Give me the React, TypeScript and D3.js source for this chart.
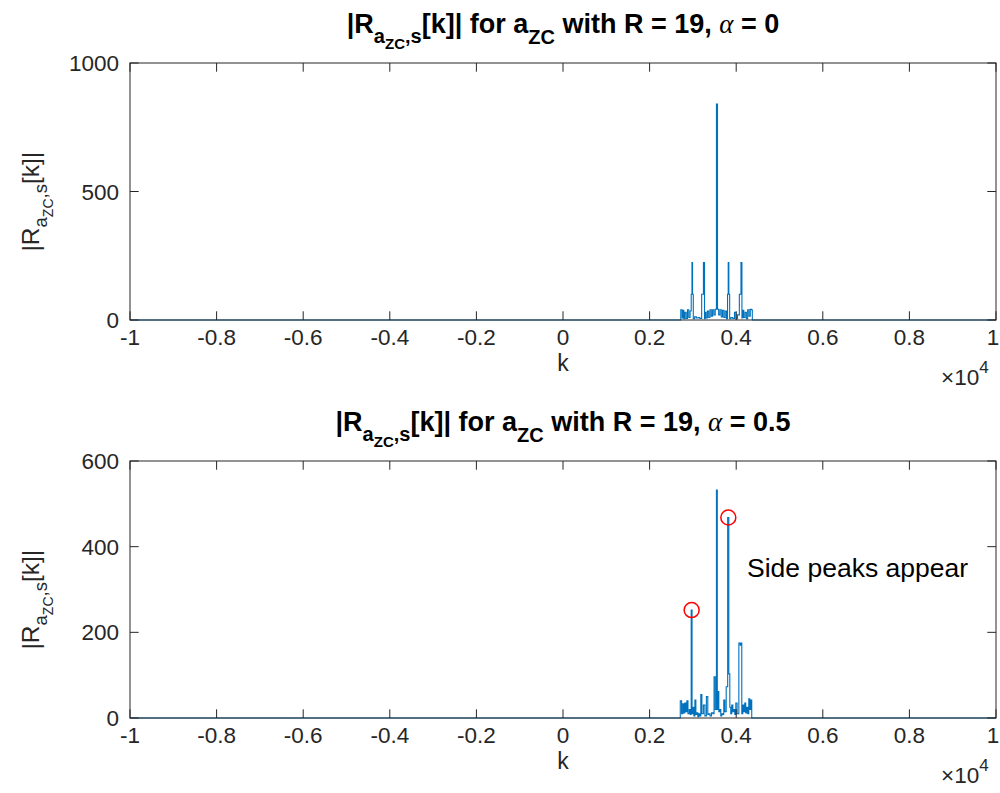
import { useEffect, useRef } from 'react'
import * as d3 from 'd3'

// |R[k]| samples (k, magnitude); zero elsewhere
const kTop = [-10000, 2700, 2740, 2760, 2780, 2800, 2830, 2860, 2890, 2920, 2950, 2972, 2985, 2998, 3020, 3060, 3100, 3140, 3180, 3225, 3262, 3275, 3290, 3320, 3350, 3380, 3410, 3440, 3470, 3500, 3530, 3557, 3580, 3610, 3640, 3670, 3700, 3730, 3760, 3790, 3810, 3822, 3838, 3860, 3900, 3940, 3980, 4010, 4050, 4095, 4125, 4140, 4160, 4190, 4220, 4250, 4280, 4310, 4340, 4364, 4380, 10000]
const magTop = [0, 0, 40, 8, 38, 5, 30, 6, 40, 10, 35, 100, 224, 100, 5, 12, 8, 10, 6, 100, 224, 5, 30, 8, 35, 10, 40, 15, 40, 20, 42, 840, 42, 20, 40, 12, 38, 10, 35, 5, 100, 224, 100, 5, 10, 6, 30, 5, 20, 100, 224, 8, 38, 10, 30, 5, 40, 15, 42, 40, 0, 0]

const kBot = [-10000, 2690, 2727, 2750, 2780, 2800, 2826, 2850, 2872, 2900, 2930, 2950, 2971, 2990, 3010, 3035, 3057, 3080, 3103, 3125, 3149, 3170, 3195, 3220, 3264, 3290, 3333, 3355, 3379, 3410, 3449, 3475, 3502, 3530, 3557, 3570, 3587, 3610, 3633, 3655, 3679, 3700, 3726, 3750, 3788, 3818, 3841, 3864, 3885, 3910, 3935, 3956, 3980, 4002, 4040, 4083, 4100, 4118, 4140, 4164, 4185, 4210, 4230, 4256, 4280, 4302, 4325, 4348, 4370, 10000]
const magBot = [0, 0, 40, 10, 33, 12, 35, 15, 40, 10, 20, 8, 252, 10, 25, 5, 42, 8, 12, 3, 10, 5, 55, 10, 30, 5, 50, 8, 10, 5, 12, 10, 96, 20, 532, 20, 62, 15, 20, 5, 10, 8, 42, 15, 73, 468, 103, 25, 10, 30, 15, 20, 8, 35, 10, 175, 170, 175, 10, 30, 15, 35, 12, 25, 10, 45, 20, 42, 0, 0]

// side peaks marked in the lower plot
const peakK = [2971, 3818]
const peakR = [252, 468]

const xTicks = [-10000, -8000, -6000, -4000, -2000, 0, 2000, 4000, 6000, 8000, 10000]
const xTickLabels = ['-1', '-0.8', '-0.6', '-0.4', '-0.2', '0', '0.2', '0.4', '0.6', '0.8', '1']
const yTicksTop = [0, 500, 1000]
const yTicksBot = [0, 200, 400, 600]

const FONT = '"Liberation Sans", Arial, Helvetica, sans-serif'
const AX = '#262626'
const LINE = '#0072BD'

type Panel = {
  top: number
  bottom: number
  yMax: number
  yTicks: number[]
  ks: number[]
  mags: number[]
  alpha: string
}

export default function App() {
  const svgRef = useRef<SVGSVGElement>(null)
  const width = 1000
  const height = 793

  useEffect(() => {
    if (!svgRef.current) return
    const svg = d3.select(svgRef.current)
    svg.selectAll('*').remove()

    const left = 130
    const right = 996

    const panels: Panel[] = [
      { top: 63, bottom: 320, yMax: 1000, yTicks: yTicksTop, ks: kTop, mags: magTop, alpha: '0' },
      { top: 461, bottom: 718, yMax: 600, yTicks: yTicksBot, ks: kBot, mags: magBot, alpha: '0.5' },
    ]

    panels.forEach((p, pi) => {
      const x = d3.scaleLinear().domain([-10000, 10000]).range([left, right])
      const y = d3.scaleLinear().domain([0, p.yMax]).range([p.bottom, p.top])
      const g = svg.append('g')

      // data line, stepped so the dense samples read as narrow bars
      const pts: [number, number][] = p.ks.map((k, i) => [k, p.mags[i]])
      const line = d3.line<[number, number]>().x(d => x(d[0])).y(d => y(d[1])).curve(d3.curveStep)
      g.append('path').attr('d', line(pts)).attr('fill', 'none')
        .attr('stroke', LINE).attr('stroke-width', 1.1)

      // box
      g.append('rect').attr('x', left).attr('y', p.top)
        .attr('width', right - left).attr('height', p.bottom - p.top)
        .attr('fill', 'none').attr('stroke', AX).attr('stroke-width', 1)

      // x ticks (inward, both sides)
      xTicks.forEach((t, i) => {
        const tx = x(t)
        g.append('line').attr('x1', tx).attr('x2', tx).attr('y1', p.bottom).attr('y2', p.bottom - 8.7)
          .attr('stroke', AX)
        g.append('line').attr('x1', tx).attr('x2', tx).attr('y1', p.top).attr('y2', p.top + 8.7)
          .attr('stroke', AX)
        // keep the last label inside the page edge
        g.append('text').attr('x', Math.min(tx, width - 7)).attr('y', p.bottom + 25).attr('text-anchor', 'middle')
          .attr('font-family', FONT).attr('font-size', 22.5).attr('fill', AX).text(xTickLabels[i])
      })

      // y ticks
      p.yTicks.forEach(t => {
        const ty = y(t)
        g.append('line').attr('x1', left).attr('x2', left + 8.7).attr('y1', ty).attr('y2', ty).attr('stroke', AX)
        g.append('line').attr('x1', right).attr('x2', right - 8.7).attr('y1', ty).attr('y2', ty).attr('stroke', AX)
        g.append('text').attr('x', left - 11).attr('y', ty + 8).attr('text-anchor', 'end')
          .attr('font-family', FONT).attr('font-size', 22.5).attr('fill', AX).text(String(t))
      })

      // x label and exponent
      g.append('text').attr('x', (left + right) / 2).attr('y', p.bottom + 51).attr('text-anchor', 'middle')
        .attr('font-family', FONT).attr('font-size', 23).attr('fill', AX).text('k')
      const ex = g.append('text').attr('x', 941).attr('y', p.bottom + 65)
        .attr('font-family', FONT).attr('font-size', 22.5).attr('fill', AX)
      ex.append('tspan').text('\u00d710')
      ex.append('tspan').attr('dy', -12).attr('font-size', 17).text('4')

      // y label
      const yl = g.append('text')
        .attr('transform', `translate(39,${(p.top + p.bottom) / 2 + 60}) rotate(-90)`)
        .attr('font-family', FONT).attr('font-size', 24.5).attr('fill', AX)
      yl.append('tspan').text('|R')
      yl.append('tspan').attr('dy', 8).attr('font-size', 18.5).text('a')
      yl.append('tspan').attr('dy', 6).attr('font-size', 14).text('ZC')
      yl.append('tspan').attr('dy', -6).attr('font-size', 18.5).text(',s')
      yl.append('tspan').attr('dy', -8).text('[k]|')

      // title
      const tt = g.append('text').attr('x', (left + right) / 2).attr('y', p.top - 30)
        .attr('text-anchor', 'middle').attr('font-family', FONT).attr('font-size', 27)
        .attr('font-weight', 'bold').attr('fill', '#000')
      tt.append('tspan').text('|R')
      tt.append('tspan').attr('dy', 10).attr('font-size', 20).text('a')
      tt.append('tspan').attr('dy', 6).attr('font-size', 15).text('ZC')
      tt.append('tspan').attr('dy', -6).attr('font-size', 20).text(',s')
      tt.append('tspan').attr('dy', -10).text('[k]| for a')
      tt.append('tspan').attr('dy', 11).attr('font-size', 20).text('ZC')
      tt.append('tspan').attr('dy', -11).text(' with R = 19, ')
      tt.append('tspan').attr('font-family', '"Liberation Serif", "Times New Roman", serif')
        .attr('font-style', 'italic').attr('font-weight', 'normal').text('\u03b1')
      tt.append('tspan').text(` = ${p.alpha}`)

      if (pi === 1) {
        peakK.forEach((k, i) => {
          g.append('circle').attr('cx', x(k)).attr('cy', y(peakR[i])).attr('r', 7.5)
            .attr('fill', 'none').attr('stroke', '#FF0000').attr('stroke-width', 1.5)
        })
        g.append('text').attr('x', x(4250)).attr('y', y(330))
          .attr('font-family', FONT).attr('font-size', 26.5).attr('fill', '#000').text('Side peaks appear')
      }
    })
  }, [])

  return (
    <svg ref={svgRef} width={width} height={height}
      style={{ position: 'absolute', left: 0, top: 0, background: '#fff' }} />
  )
}
